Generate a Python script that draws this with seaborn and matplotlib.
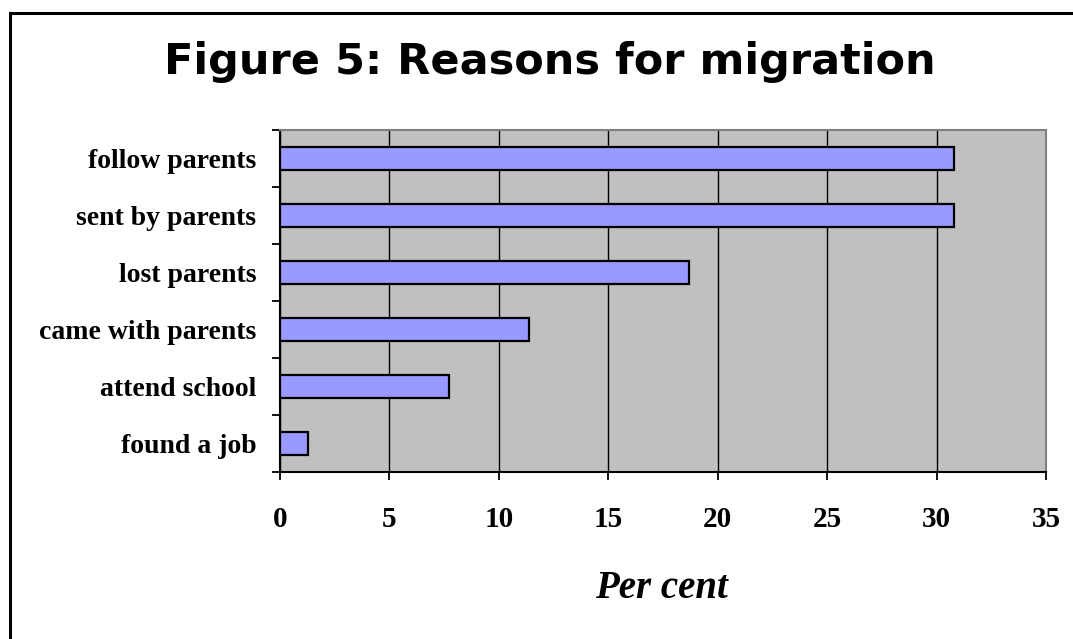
import matplotlib
matplotlib.use("Agg")
import matplotlib.pyplot as plt
from matplotlib.lines import Line2D
import numpy as np
import pandas as pd
import seaborn as sns

# ---- data ----
categories = ["follow parents", "sent by parents", "lost parents",
              "came with parents", "attend school", "found a job"]
values = [30.8, 30.8, 18.7, 11.4, 7.7, 1.3]
xticks = [0, 5, 10, 15, 20, 25, 30, 35]
title = "Figure 5: Reasons for migration"
xlabel = "Per cent"

df = pd.DataFrame({"reason": categories, "pct": values})

W, H = 1073, 639
fig = plt.figure(figsize=(W / 100, H / 100), dpi=100)
fig.patch.set_facecolor("white")

left, right, top, bottom = 280, 1046, 130, 472
ax = fig.add_axes([left / W, 1 - bottom / H, (right - left) / W, (bottom - top) / H])
ax.set_facecolor("#C0C0C0")

sns.barplot(data=df, x="pct", y="reason", orient="h", ax=ax,
            color="#9999FF", saturation=1, width=0.39,
            edgecolor="black", linewidth=1.6, zorder=3)

ax.set_xlim(0, 35)
ax.set_ylim(len(categories) - 0.5, -0.5)

# gridlines
ax.set_xticks(xticks)
ax.xaxis.grid(True, color="black", linewidth=1.0, zorder=1)
ax.yaxis.grid(False)
ax.set_axisbelow(True)

serif = "Liberation Serif"
ax.set_xticklabels([str(t) for t in xticks], fontfamily=serif,
                   fontweight="bold", fontsize=21)
ax.tick_params(axis="x", direction="out", length=5.5, width=1.3,
               color="black", pad=19)

# y ticks at category boundaries, labels at centers
ax.set_yticks(np.arange(-0.5, len(categories), 1.0))
ax.set_yticklabels([])
ax.tick_params(axis="y", which="major", direction="out", length=5.8,
               width=1.3, color="black")
ax.set_yticks(np.arange(len(categories)), minor=True)
ax.set_yticklabels(categories, minor=True, fontfamily=serif,
                   fontweight="bold", fontsize=20)
ax.tick_params(axis="y", which="minor", length=0, pad=17)

ax.set_xlabel("")
ax.set_ylabel("")

for s in ["left", "bottom"]:
    ax.spines[s].set_color("black")
    ax.spines[s].set_linewidth(1.5)
for s in ["top", "right"]:
    ax.spines[s].set_color("#808080")
    ax.spines[s].set_linewidth(1.5)

# title and axis label
fig.text(550 / W, 1 - 62 / H, title, ha="center", va="center",
         fontsize=31, fontweight="bold", fontfamily="DejaVu Sans")
fig.text(661 / W, 1 - 589 / H, xlabel, ha="center", va="center",
         fontsize=28, fontweight="bold", fontstyle="italic",
         fontfamily=serif)

# chart frame (left and top edges visible)
fig.add_artist(Line2D([10 / W, 10 / W], [0, 1 - 13 / H], transform=fig.transFigure,
                      color="black", linewidth=2.2))
fig.add_artist(Line2D([10 / W, 1], [1 - 13 / H, 1 - 13 / H], transform=fig.transFigure,
                      color="black", linewidth=2.2))

fig.savefig("out.png", dpi=100, facecolor="white")
